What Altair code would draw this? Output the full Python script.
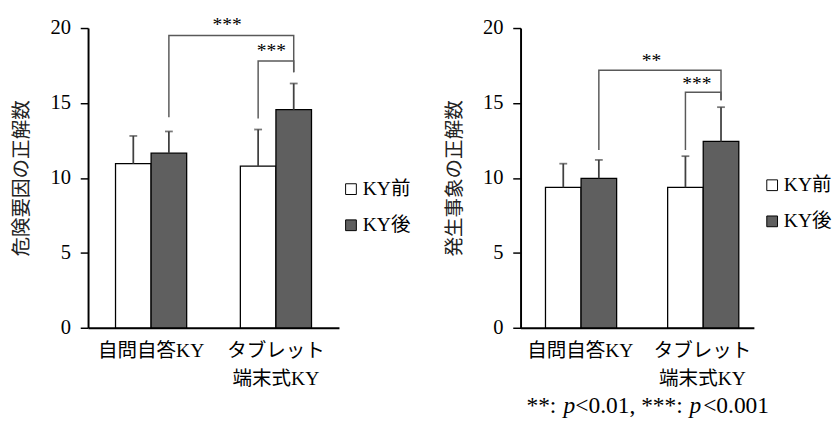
import altair as alt
import pandas as pd

# ---------------- data ----------------
groups = ["自問自答KY", "タブレット\n端末式KY"]
series = ["KY前", "KY後"]

# order of values: (g1,KY前), (g1,KY後), (g2,KY前), (g2,KY後)
a_title = "危険要因の正解数"
a_mean = [10.95, 11.65, 10.78, 14.55]
a_sd = [1.85, 1.45, 2.45, 1.75]

b_title = "発生事象の正解数"
b_mean = [9.37, 9.97, 9.37, 12.43]
b_sd = [1.58, 1.23, 2.08, 2.29]

# brackets: (id, group index, series index, value) in drawing order
a_br_id = ["big", "big", "big", "big", "small", "small", "small", "small"]
a_br_g = [0, 0, 1, 1, 1, 1, 1, 1]
a_br_s = [1, 1, 1, 1, 0, 0, 1, 1]
a_br_v = [14.05, 19.5, 19.5, 17.05, 13.97, 17.8, 17.8, 17.05]

b_br_id = a_br_id
b_br_g = a_br_g
b_br_s = a_br_s
b_br_v = [11.86, 17.18, 17.18, 15.18, 11.86, 15.72, 15.72, 15.18]

# significance labels: big bracket, small bracket
a_star_txt = ["***", "***"]
a_star_v = [19.82, 18.1]
b_star_txt = ["**", "***"]
b_star_v = [17.4, 15.85]

foot_parts = ["**: ", "p", "<0.01, ***: ", "p", "<0.001"]

# ---------------- style ----------------
SERIF = "Liberation Serif"
MIXED = "Liberation Serif, Noto Sans CJK JP"
CJK = "Noto Sans CJK JP"
DARK = "#5f5f5f"
ERR = "#404040"
BR = "#595959"
H = 307


def panel(title, mean, sd, br_id, br_g, br_s, br_v, star_txt, star_v,
          width, po, align, big_dx, small_dx, legx, legy, foot=False):
    keys = [(g, s) for g in groups for s in series]
    bars = pd.DataFrame({
        "group": [k[0] for k in keys],
        "series": [k[1] for k in keys],
        "v": mean,
        "top": [m + e for m, e in zip(mean, sd)],
    })
    brk = pd.DataFrame({
        "bid": br_id,
        "ord": list(range(len(br_id))),
        "group": [groups[i] for i in br_g],
        "series": [series[i] for i in br_s],
        "v": br_v,
    })
    stars_big = pd.DataFrame({"group": [groups[1]], "series": [series[0]],
                              "v": [star_v[0]], "t": [star_txt[0]]})
    stars_small = pd.DataFrame({"group": [groups[1]],
                                "v": [star_v[1]], "t": [star_txt[1]]})

    xs = alt.Scale(domain=groups, paddingInner=0.43, paddingOuter=po, align=align)
    xaxis = alt.Axis(title=None, labelAngle=0,
                     labelExpr="split(datum.label, '\\n')")
    x = alt.X("group:N", scale=xs, sort=groups, axis=xaxis)
    xo = alt.XOffset("series:N", sort=series,
                     scale=alt.Scale(domain=series, paddingInner=0, paddingOuter=0))
    ys = alt.Scale(domain=[0, 20], nice=False, zero=True)
    yaxis = alt.Axis(title=title, values=[0, 5, 10, 15, 20])

    def Y(f):
        return alt.Y(f, scale=ys, axis=yaxis, title=title)

    base = alt.Chart(bars)
    bar = base.mark_bar(stroke="black", strokeWidth=1.3).encode(
        x=x, xOffset=xo, y=Y("v:Q"),
        color=alt.Color("series:N", sort=series,
                        scale=alt.Scale(domain=series, range=["white", DARK]),
                        legend=alt.Legend(orient="none", legendX=legx, legendY=legy,
                                          title=None, symbolType="square",
                                          symbolSize=121, symbolStrokeColor="black",
                                          symbolStrokeWidth=1, labelFont=MIXED,
                                          labelFontSize=20, labelColor="black",
                                          rowPadding=17, labelOffset=2, padding=0)),
    )
    err = base.mark_rule(color=ERR, strokeWidth=1.8).encode(
        x=x, xOffset=xo, y=Y("v:Q"), y2="top:Q")
    cap = base.mark_tick(color=ERR, thickness=1.8, size=8).encode(
        x=x, xOffset=xo, y=Y("top:Q"))
    line = alt.Chart(brk).mark_line(color=BR, strokeWidth=1.5).encode(
        x=x, xOffset=xo, y=Y("v:Q"), detail="bid:N", order="ord:Q")
    s1 = alt.Chart(stars_big).mark_text(font=SERIF, fontSize=20, color="black",
                                        baseline="alphabetic", dx=big_dx).encode(
        x=x, xOffset=xo, y=Y("v:Q"), text="t:N")
    s2 = alt.Chart(stars_small).mark_text(font=SERIF, fontSize=20, color="black",
                                          baseline="alphabetic", dx=small_dx).encode(
        x=x, y=Y("v:Q"), text="t:N")
    layers = [bar, err, cap, line, s1, s2]
    if foot:
        xpos = [6, 44, 56, 173, 187]
        for part, xp in zip(foot_parts, xpos):
            layers.append(
                alt.Chart(pd.DataFrame({"t": [part]})).mark_text(
                    font=SERIF, fontSize=24, color="black", align="left",
                    baseline="middle",
                    fontStyle="italic" if part == "p" else "normal").encode(
                    text="t:N", x=alt.value(xp), y=alt.value(387)))
    return alt.layer(*layers).properties(width=width, height=H)


left = panel(a_title, a_mean, a_sd, a_br_id, a_br_g, a_br_s, a_br_v,
             a_star_txt, a_star_v, 257, 0.22, 0.5, -31.7, -4.7, 259.3, 155)
right = panel(b_title, b_mean, b_sd, b_br_id, b_br_g, b_br_s, b_br_v,
              b_star_txt, b_star_v, 239, 0.17, 0.6, -34.8, -5.7, 247.7, 151,
              foot=True)

chart = alt.hconcat(left, right, spacing=34).resolve_scale(
    color="independent").resolve_legend(color="independent").properties(
    padding={"left": 4, "top": 1.5, "right": 0, "bottom": 0},
    background="white",
).configure_view(stroke=None).configure_axis(
    grid=False,
).configure_axisY(
    domainColor="black", domainWidth=2, tickColor="black", tickWidth=1.5,
    tickSize=8, labelFont=SERIF, labelFontSize=21, labelColor="black",
    labelPadding=10, titleFont=CJK, titleFontSize=20, titleFontWeight="normal",
    titleColor="#222222", titlePadding=19,
).configure_axisX(
    domainColor="black", domainWidth=2, ticks=False, tickSize=0,
    labelFont=MIXED, labelFontSize=20, labelColor="black", labelLineHeight=29,
    labelPadding=13,
)

chart.save("out.html", embed_options={"renderer": "svg", "actions": False})
